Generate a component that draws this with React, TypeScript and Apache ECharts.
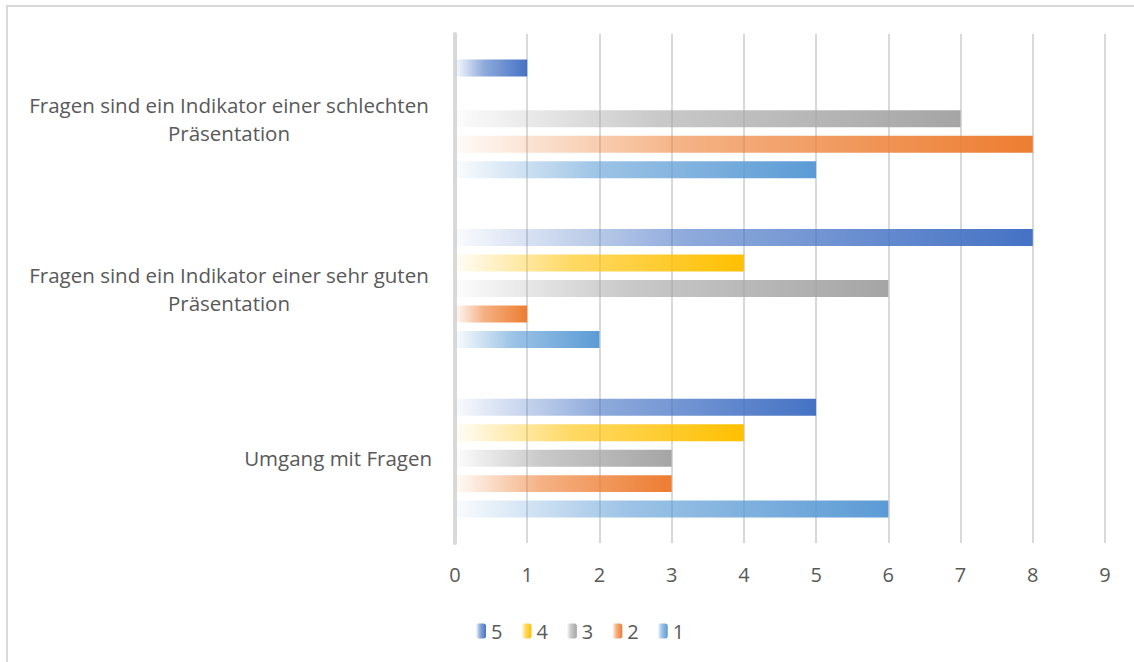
import React, { useEffect, useRef } from "react";
import * as echarts from "echarts";

const categories = [
  "Umgang mit Fragen",
  "Fragen sind ein Indikator einer sehr guten Präsentation",
  "Fragen sind ein Indikator einer schlechten Präsentation",
];
const seriesNames = ["5", "4", "3", "2", "1"];
const values5 = [5, 8, 1];
const values4 = [4, 4, 0];
const values3 = [3, 6, 7];
const values2 = [3, 1, 8];
const values1 = [6, 2, 5];
const seriesColors = ["#4472c4", "#ffc000", "#a5a5a5", "#ed7d31", "#5b9bd5"];
const xTicks = [0, 1, 2, 3, 4, 5, 6, 7, 8, 9];

function hexToRgba(hex: string, a: number) {
  const n = parseInt(hex.slice(1), 16);
  return `rgba(${(n >> 16) & 255},${(n >> 8) & 255},${n & 255},${a})`;
}

function grad(hex: string) {
  return new echarts.graphic.LinearGradient(0, 0, 1, 0, [
    { offset: 0, color: hexToRgba(hex, 0.03) },
    { offset: 0.4, color: hexToRgba(hex, 0.6) },
    { offset: 1, color: hexToRgba(hex, 1) },
  ]);
}

const FONT = "'Open Sans', sans-serif";
const TXT = "#595959";

export default function App() {
  const ref = useRef<HTMLDivElement>(null);
  useEffect(() => {
    document.body.style.margin = "0";
    const chart = echarts.init(ref.current!, null, { renderer: "svg" });
    const all = [values5, values4, values3, values2, values1];
    chart.setOption({
      animation: false,
      backgroundColor: "#ffffff",
      textStyle: { fontFamily: FONT },
      grid: { left: 455, right: 29, top: 34, bottom: 119, containLabel: false },
      graphic: [
        {
          type: "rect",
          shape: { x: 7, y: 6, width: 1140, height: 670 },
          style: { fill: "none", stroke: "#d9d9d9", lineWidth: 2 },
          silent: true,
        },
      ],
      legend: {
        data: seriesNames,
        left: 471,
        top: 616,
        itemWidth: 10,
        itemHeight: 15,
        itemGap: 19,
        textStyle: { fontFamily: FONT, fontSize: 20, color: TXT },
      },
      xAxis: {
        type: "value",
        min: 0,
        max: 9,
        interval: 1,
        axisLine: { show: false },
        axisTick: { show: false },
        splitLine: { show: true, lineStyle: { color: "#d9d9d9", width: 2 } },
        axisLabel: {
          fontFamily: FONT,
          fontSize: 20,
          color: TXT,
          margin: 21,
          formatter: (v: number) => (xTicks.includes(v) ? String(v) : ""),
        },
      },
      yAxis: {
        type: "category",
        data: categories,
        axisLine: { show: true, lineStyle: { color: "#d9d9d9", width: 4 } },
        axisTick: { show: false },
        axisLabel: {
          fontFamily: FONT,
          fontSize: 20.5,
          color: TXT,
          margin: 23,
          align: "right",
          lineHeight: 28,
          formatter: (v: string) => {
            const idx = v.indexOf(" Präsentation");
            if (idx < 0) return v;
            return `{c|${v.slice(0, idx)}}\n{c|${v.slice(idx + 1)}}`;
          },
          rich: {
            c: {
              width: 406,
              align: "center",
              fontFamily: FONT,
              fontSize: 20.5,
              color: TXT,
              lineHeight: 28,
            },
          },
        },
      },
      series: seriesNames.map((name, i) => ({
        name,
        type: "bar",
        data: all[i],
        barCategoryGap: "30%",
        barGap: "50%",
        itemStyle: { color: grad(seriesColors[i]) },
      })),
    });
    return () => chart.dispose();
  }, []);
  return <div ref={ref} style={{ width: 1134, height: 662 }} />;
}
